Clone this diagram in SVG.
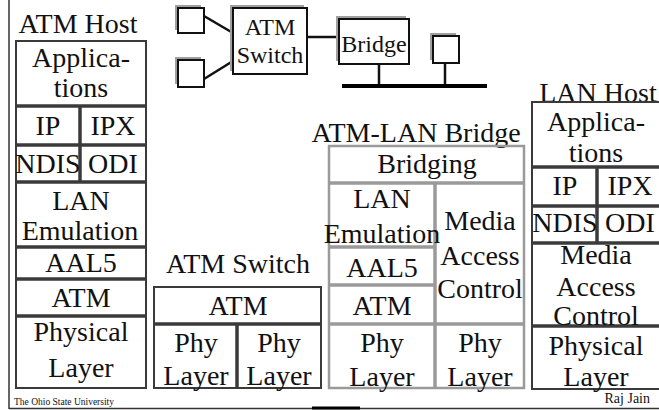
<svg xmlns="http://www.w3.org/2000/svg" width="659" height="410" viewBox="0 0 659 410" font-family="'Liberation Serif', 'Times New Roman', Times, serif">
<style>
text{font-family:'Liberation Serif', 'Times New Roman', Times, serif;font-size:28px;fill:#111;text-anchor:middle}
.sm{font-size:24px}
.dk{fill:none;stroke:#3a3a3a;stroke-width:2}
.dl{stroke:#3a3a3a;stroke-width:3.5}
.gy{fill:none;stroke:#9a9a9a;stroke-width:2.5}
.gl{stroke:#9a9a9a;stroke-width:3.5}
.sh{fill:#a0a0a0}
.bx{fill:#fff;stroke:#111;stroke-width:2}
.ln{stroke:#111;stroke-width:2.5}
.ft{font-size:9.5px;text-anchor:start}
.fr{font-size:14px;text-anchor:end}
</style>
<g id="frame">
<line x1="9" y1="0" x2="9" y2="409" stroke="#333" stroke-width="1.5"/>
<line x1="9" y1="408.5" x2="659" y2="408.5" stroke="#333" stroke-width="1.5"/>
<line x1="312" y1="408" x2="360" y2="408" stroke="#000" stroke-width="3"/>
</g>
<g id="connectors">
<line class="ln" x1="204" y1="16" x2="233" y2="33"/>
<line class="ln" x1="204" y1="79" x2="233" y2="61"/>
<line class="ln" x1="307" y1="37" x2="339" y2="37"/>
<line class="ln" x1="379" y1="64" x2="379" y2="86"/>
<line class="ln" x1="445" y1="63" x2="445" y2="86"/>
<line x1="342" y1="86" x2="487" y2="86" stroke="#000" stroke-width="4"/>
</g>
<g id="net-host1"><rect class="sh" x="175" y="5" width="26" height="25"/><rect class="bx" x="178" y="8" width="26" height="25"/></g>
<g id="net-host2"><rect class="sh" x="175" y="57" width="26" height="27"/><rect class="bx" x="178" y="60" width="26" height="27"/></g>
<g id="net-switch"><rect class="sh" x="230" y="5" width="74" height="66"/><rect class="bx" x="233" y="8" width="74" height="66"/>
<text class="sm" x="270" y="35">ATM</text><text class="sm" x="270" y="63">Switch</text></g>
<g id="net-bridge"><rect class="sh" x="336" y="16" width="70" height="45"/><rect class="bx" x="339" y="19" width="70" height="45"/>
<text class="sm" x="374" y="52">Bridge</text></g>
<g id="net-host3"><rect class="sh" x="430" y="33" width="26" height="27"/><rect class="bx" x="433" y="36" width="26" height="27"/></g>

<g id="atm-host">
<text x="78" y="33">ATM Host</text>
<rect class="dk" x="16" y="41" width="130" height="347"/>
<line class="dl" x1="16" y1="106" x2="146" y2="106"/>
<line class="dl" x1="16" y1="145" x2="146" y2="145"/>
<line class="dl" x1="16" y1="182" x2="146" y2="182"/>
<line class="dl" x1="16" y1="247" x2="146" y2="247"/>
<line class="dl" x1="16" y1="279" x2="146" y2="279"/>
<line class="dl" x1="16" y1="316" x2="146" y2="316"/>
<line class="dl" x1="80" y1="106" x2="80" y2="182"/>
<text x="81" y="67">Applica-</text><text x="81" y="97">tions</text>
<text x="48" y="135">IP</text><text x="113" y="135">IPX</text>
<text x="48" y="173">NDIS</text><text x="113" y="173">ODI</text>
<text x="81" y="210">LAN</text><text x="80" y="240">Emulation</text>
<text x="81" y="272">AAL5</text>
<text x="81" y="307">ATM</text>
<text x="81" y="341">Physical</text><text x="81" y="377">Layer</text>
</g>

<g id="atm-switch">
<text x="238" y="273">ATM Switch</text>
<rect class="dk" x="154" y="287" width="167" height="101"/>
<line class="dl" x1="154" y1="324" x2="321" y2="324"/>
<line class="dl" x1="237" y1="324" x2="237" y2="388"/>
<text x="238" y="315">ATM</text>
<text x="196" y="352">Phy</text><text x="196" y="385">Layer</text>
<text x="279" y="352">Phy</text><text x="279" y="385">Layer</text>
</g>

<g id="atm-lan-bridge">
<text x="416" y="142">ATM-LAN Bridge</text>
<rect class="gy" x="329" y="146" width="195" height="242"/>
<line class="gl" x1="329" y1="183" x2="524" y2="183"/>
<line class="gl" x1="435" y1="183" x2="435" y2="388"/>
<line class="gl" x1="329" y1="247" x2="435" y2="247"/>
<line class="gl" x1="329" y1="285" x2="435" y2="285"/>
<line class="gl" x1="329" y1="324" x2="524" y2="324"/>
<text x="427" y="173">Bridging</text>
<text x="382" y="208">LAN</text><text x="382" y="243">Emulation</text>
<text x="382" y="277">AAL5</text>
<text x="382" y="315">ATM</text>
<text x="480" y="230">Media</text><text x="480" y="265">Access</text><text x="480" y="298">Control</text>
<text x="382" y="352">Phy</text><text x="382" y="386">Layer</text>
<text x="480" y="352">Phy</text><text x="480" y="386">Layer</text>
</g>

<g id="lan-host">
<text x="598" y="102">LAN Host</text>
<rect class="dk" x="532" y="102" width="128" height="287"/>
<line class="dl" x1="532" y1="167" x2="659" y2="167"/>
<line class="dl" x1="532" y1="206" x2="659" y2="206"/>
<line class="dl" x1="532" y1="243" x2="659" y2="243"/>
<line class="dl" x1="532" y1="326" x2="659" y2="326"/>
<line class="dl" x1="597" y1="167" x2="597" y2="243"/>
<text x="596" y="131">Applica-</text><text x="596" y="162">tions</text>
<text x="565" y="195">IP</text><text x="630" y="195">IPX</text>
<text x="565" y="232">NDIS</text><text x="630" y="232">ODI</text>
<text x="596" y="264">Media</text><text x="596" y="296">Access</text><text x="596" y="325">Control</text>
<text x="596" y="355">Physical</text><text x="596" y="386">Layer</text>
</g>

<g id="footer">
<text class="ft" x="14" y="405">The Ohio State University</text>
<text class="fr" x="650" y="403">Raj Jain</text>
</g>
</svg>
